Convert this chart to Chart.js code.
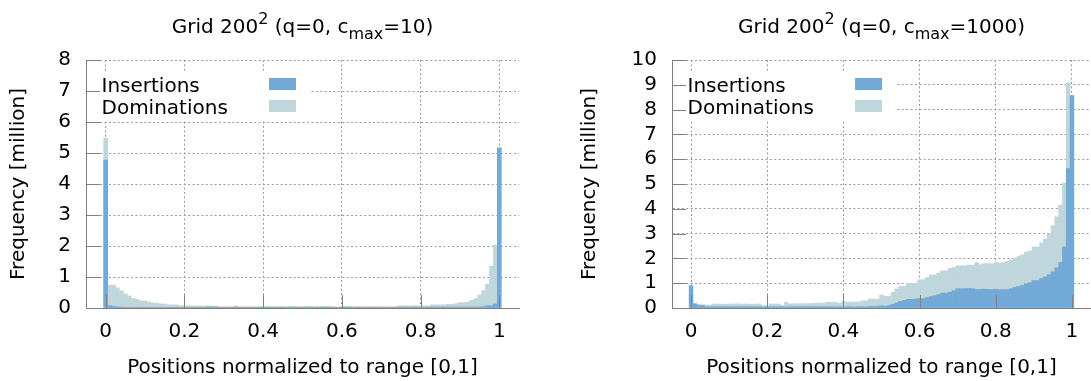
<!DOCTYPE html>
<html>
<head>
<meta charset="utf-8">
<script src="https://cdn.jsdelivr.net/npm/chart.js@4.4.1/dist/chart.umd.min.js"></script>
<style>
    body { margin: 0; background: #fff; }
    .panel { position: absolute; top: 0; height: 381px; }
</style>
</head>
<body>
<div class="panel" style="left:0;width:545px"><canvas id="left"></canvas></div>
<div class="panel" style="left:545px;width:546px"><canvas id="right"></canvas></div>
<script>
// histogram bins: positions 0, 0.01, ... 1
const binPos = Array.from({length: 101}, (_, i) => i / 100);
const xTicks = [0, 0.2, 0.4, 0.6, 0.8, 1];

// left panel, c_max = 10 (million)
const leftInsertions = [
    4.77, 0.07, 0.05, 0.03, 0.03, 0.02, 0.02, 0.02, 0.01, 0.02,
    0.02, 0.01, 0.02, 0.02, 0.01, 0.02, 0.02, 0.02, 0.01, 0.02,
    0.01, 0.01, 0.01, 0.01, 0.01, 0.01, 0.03, 0.03, 0.03, 0.01,
    0.01, 0.01, 0.01, 0.03, 0.01, 0.01, 0.01, 0.01, 0.01, 0.03,
    0.03, 0.03, 0.03, 0.03, 0.03, 0.03, 0.03, 0.03, 0.03, 0.01,
    0.03, 0.03, 0.03, 0.03, 0.03, 0.03, 0.03, 0.03, 0.03, 0.01,
    0.01, 0.03, 0.03, 0.03, 0.03, 0.01, 0.01, 0.03, 0.01, 0.01,
    0.01, 0.01, 0.01, 0.01, 0.03, 0.03, 0.03, 0.03, 0.03, 0.03,
    0.01, 0.01, 0.03, 0.03, 0.03, 0.03, 0.03, 0.03, 0.03, 0.03,
    0.03, 0.03, 0.03, 0.03, 0.03, 0.03, 0.04, 0.07, 0.07, 0.13,
    5.17
];
const leftDominations = [
    5.47, 0.74, 0.74, 0.65, 0.55, 0.45, 0.39, 0.31, 0.28, 0.23,
    0.23, 0.19, 0.16, 0.16, 0.13, 0.13, 0.10, 0.10, 0.10, 0.08,
    0.07, 0.07, 0.07, 0.06, 0.07, 0.06, 0.07, 0.06, 0.06, 0.04,
    0.04, 0.04, 0.04, 0.07, 0.04, 0.04, 0.04, 0.04, 0.04, 0.03,
    0.03, 0.04, 0.03, 0.03, 0.04, 0.03, 0.03, 0.04, 0.04, 0.04,
    0.04, 0.04, 0.04, 0.03, 0.04, 0.04, 0.04, 0.04, 0.03, 0.03,
    0.04, 0.04, 0.04, 0.03, 0.04, 0.04, 0.04, 0.04, 0.04, 0.04,
    0.04, 0.04, 0.04, 0.04, 0.04, 0.07, 0.07, 0.06, 0.07, 0.07,
    0.07, 0.07, 0.07, 0.10, 0.10, 0.10, 0.10, 0.12, 0.12, 0.14,
    0.17, 0.17, 0.19, 0.25, 0.30, 0.42, 0.56, 0.77, 1.35, 2.03,
    0
];

// right panel, c_max = 1000 (million)
const rightInsertions = [
    0.90, 0.16, 0.10, 0.10, 0.05, 0.05, 0.05, 0.05, 0.06, 0.05,
    0.05, 0.05, 0.05, 0.05, 0.05, 0.05, 0.05, 0.05, 0.05, 0.04,
    0.04, 0.05, 0.05, 0.05, 0.05, 0.04, 0.05, 0.05, 0.05, 0.05,
    0.05, 0.05, 0.05, 0.05, 0.05, 0.05, 0.05, 0.05, 0.04, 0.05,
    0.04, 0.05, 0.05, 0.04, 0.05, 0.05, 0.04, 0.06, 0.06, 0.06,
    0.09, 0.07, 0.10, 0.15, 0.21, 0.27, 0.31, 0.35, 0.35, 0.36,
    0.38, 0.38, 0.42, 0.46, 0.50, 0.54, 0.60, 0.60, 0.64, 0.70,
    0.78, 0.78, 0.78, 0.79, 0.78, 0.75, 0.75, 0.76, 0.75, 0.74,
    0.76, 0.74, 0.74, 0.74, 0.78, 0.83, 0.87, 0.91, 0.98, 1.02,
    1.11, 1.11, 1.19, 1.26, 1.34, 1.46, 1.62, 1.84, 2.47, 5.62,
    8.57
];
const rightDominations = [
    0, 0.20, 0.15, 0.13, 0.12, 0.12, 0.16, 0.16, 0.16, 0.15,
    0.16, 0.16, 0.17, 0.16, 0.16, 0.16, 0.15, 0.16, 0.16, 0.10,
    0.10, 0.16, 0.16, 0.16, 0.10, 0.23, 0.16, 0.17, 0.17, 0.18,
    0.17, 0.18, 0.18, 0.20, 0.19, 0.20, 0.23, 0.23, 0.23, 0.19,
    0.27, 0.24, 0.24, 0.24, 0.24, 0.29, 0.29, 0.36, 0.36, 0.36,
    0.52, 0.47, 0.47, 0.63, 0.77, 0.87, 0.87, 1.00, 1.00, 1.00,
    1.14, 1.14, 1.23, 1.33, 1.33, 1.41, 1.50, 1.50, 1.60, 1.64,
    1.70, 1.70, 1.70, 1.73, 1.73, 1.83, 1.75, 1.79, 1.79, 1.78,
    1.83, 1.81, 1.83, 1.88, 1.95, 2.01, 2.08, 2.15, 2.26, 2.30,
    2.46, 2.46, 2.62, 2.78, 3.00, 3.32, 3.68, 4.15, 5.04, 9.08,
    0
];

// titles: [text, kind] with kind n / sup / sub
const leftTitle = [['Grid 200', 'n'], ['2', 'sup'], [' (q=0, c', 'n'], ['max', 'sub'], ['=10)', 'n']];
const rightTitle = [['Grid 200', 'n'], ['2', 'sup'], [' (q=0, c', 'n'], ['max', 'sub'], ['=1000)', 'n']];
const seriesNames = ['Insertions', 'Dominations'];

const insColor = '#72a9d6';
const domColor = '#bfd6dd';
const gridGray = '#9a9a9a';
const axisGray = '#808080';
const FONT = 'DejaVu Sans';

Chart.defaults.font.family = FONT;
Chart.defaults.font.size = 20;
Chart.defaults.color = '#000';

function drawRich(ctx, parts, cx, base, size) {
    const fontOf = k => (k === 'n' ? size : Math.round(size * 0.8)) + 'px "' + FONT + '"';
    let total = 0;
    parts.forEach(p => { ctx.font = fontOf(p[1]); total += ctx.measureText(p[0]).width; });
    let x = cx - total / 2;
    ctx.textAlign = 'left';
    ctx.textBaseline = 'alphabetic';
    parts.forEach(p => {
        ctx.font = fontOf(p[1]);
        let y = base;
        if (p[1] === 'sup') y = base - size * 0.45;
        if (p[1] === 'sub') y = base + size * 0.28;
        ctx.fillText(p[0], x, y);
        x += ctx.measureText(p[0]).width;
    });
}

// gnuplot style: key box, inward tics, title with super/subscripts
const gnuplotLook = {
    id: 'gnuplotLook',
    afterDatasetsDraw(chart, args, opts) {
        const {ctx, chartArea: a, scales: {x, y}} = chart;
        ctx.save();

        // key
        ctx.fillStyle = '#fff';
        ctx.fillRect(a.left + 1, a.top + 12, 223, 49);
        ctx.font = '20px "' + FONT + '"';
        ctx.textAlign = 'left';
        ctx.textBaseline = 'alphabetic';
        const colors = [insColor, domColor];
        seriesNames.forEach((name, i) => {
            const base = a.top + 32 + i * 22;
            ctx.fillStyle = '#000';
            ctx.fillText(name, a.left + 15.5, base);
            ctx.fillStyle = colors[i];
            ctx.fillRect(a.left + 183, base - 14, 27, 12);
        });

        // tics pointing inwards
        ctx.strokeStyle = axisGray;
        ctx.lineWidth = 1;
        ctx.beginPath();
        y.ticks.forEach(t => {
            const py = Math.round(y.getPixelForValue(t.value)) + 0.5;
            ctx.moveTo(a.left, py);
            ctx.lineTo(a.left + 14, py);
        });
        x.ticks.forEach(t => {
            const px = Math.round(x.getPixelForValue(t.value)) + 0.5;
            ctx.moveTo(px, a.bottom);
            ctx.lineTo(px, a.bottom - 13);
        });
        ctx.stroke();

        // title
        ctx.fillStyle = '#000';
        drawRich(ctx, opts.title, (a.left + a.right) / 2, 33, 20);
        ctx.restore();
    }
};

function makeChart(id, ins, dom, yMax, title, padRight, yWidth, yTitlePad) {
    new Chart(document.getElementById(id), {
        type: 'bar',
        data: {
            datasets: [
                {
                    label: seriesNames[0],
                    data: binPos.map((p, i) => ({x: p, y: ins[i]})),
                    backgroundColor: insColor,
                    borderWidth: 0
                },
                {
                    label: seriesNames[1],
                    data: binPos.map((p, i) => ({x: p, y: dom[i]})),
                    backgroundColor: domColor,
                    borderWidth: 0
                }
            ]
        },
        options: {
            responsive: true,
            maintainAspectRatio: false,
            animation: false,
            grouped: false,
            barPercentage: 1,
            categoryPercentage: 1,
            layout: { padding: { top: 60, left: 0, right: padRight, bottom: 0 } },
            plugins: {
                legend: { display: false },
                tooltip: { enabled: false },
                gnuplotLook: { title: title }
            },
            scales: {
                x: {
                    type: 'linear',
                    min: -0.05,
                    max: 1.05,
                    offset: false,
                    afterBuildTicks: s => { s.ticks = xTicks.map(v => ({value: v})); },
                    afterFit: s => { s.height = 73; },
                    ticks: { callback: v => String(v), padding: 2, maxRotation: 0, autoSkip: false },
                    grid: { offset: false, color: gridGray, drawTicks: true, tickLength: 10, tickColor: 'rgba(0,0,0,0)' },
                    border: { display: true, color: axisGray, dash: [2, 2.4] },
                    title: { display: true, text: 'Positions normalized to range [0,1]', padding: { top: 0, bottom: 1 } }
                },
                y: {
                    min: 0,
                    max: yMax,
                    afterFit: s => { s.width = yWidth; },
                    ticks: { stepSize: 1, padding: 3, autoSkip: false },
                    grid: { color: gridGray, drawTicks: true, tickLength: 12, tickColor: 'rgba(0,0,0,0)' },
                    border: { display: true, color: axisGray, dash: [2, 2.4] },
                    title: { display: true, text: 'Frequency [million]', padding: { top: yTitlePad, bottom: 0 } }
                }
            }
        },
        plugins: [gnuplotLook]
    });
}

makeChart('left', leftInsertions, leftDominations, 8, leftTitle, 26, 86, 7);
makeChart('right', rightInsertions, rightDominations, 10, rightTitle, 0, 127, 33);
</script>
</body>
</html>
